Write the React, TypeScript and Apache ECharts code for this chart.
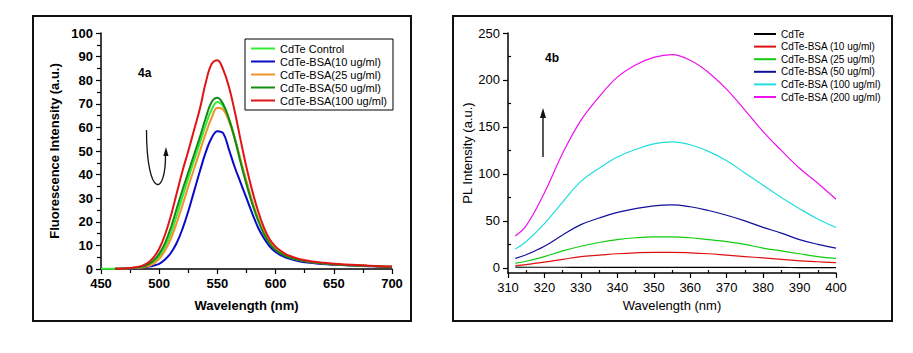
import React, { useEffect, useRef } from 'react';
import * as echarts from 'echarts';

// ---- Panel 4a data ----
const wlA = [450, 462, 470, 480, 485, 490, 495, 500, 505, 510, 515, 520, 525, 530, 535, 540, 545, 550, 555, 560, 565, 570, 575, 580, 585, 590, 595, 600, 605, 610, 620, 630, 640, 650, 660, 670, 680, 690, 700];
const controlA = [0.1, 0.1, 0.2, 0.4, 0.7, 1.4, 2.8, 5.3, 9.3, 15, 22.5, 30.5, 38.5, 46, 53.5, 61, 67.5, 70.8, 69, 63.5, 55.5, 46, 37, 28.5, 21.3, 15.5, 11.2, 8.4, 6.6, 5.3, 3.8, 3.0, 2.4, 2.0, 1.7, 1.5, 1.3, 1.1, 1.0];
const bsa10A = [null, 0.1, 0.1, 0.3, 0.5, 0.9, 1.4, 2.2, 4, 6.8, 11, 17, 24.5, 33, 41.5, 49.5, 55.5, 58.4, 57.5, 50.5, 43, 36.5, 30, 23.5, 17.5, 13, 9.5, 7.2, 5.7, 4.6, 3.3, 2.6, 2.1, 1.8, 1.6, 1.4, 1.2, 1.0, 0.9];
const bsa25A = [null, 0.1, 0.2, 0.4, 0.6, 1.1, 2.2, 4.3, 7.8, 12.8, 19.5, 27, 35, 42.5, 50, 57.5, 64, 68.3, 67.5, 62.5, 55, 46, 37, 28.5, 21.3, 15.5, 11.2, 8.4, 6.6, 5.3, 3.8, 3.0, 2.4, 2.0, 1.7, 1.5, 1.3, 1.1, 1.0];
const bsa50A = [null, 0.1, 0.2, 0.5, 0.9, 1.8, 3.5, 6.4, 11, 17.5, 25.5, 33.5, 41, 48.5, 56, 64, 70.8, 72.6, 69.8, 63.5, 55, 45, 35.8, 27.5, 20.5, 14.8, 10.7, 8.1, 6.4, 5.2, 3.8, 3.0, 2.4, 2.0, 1.7, 1.5, 1.3, 1.1, 1.0];
const bsa100A = [null, 0.1, 0.2, 0.7, 1.3, 2.5, 4.8, 8.6, 14.5, 22.5, 32, 41.5, 50, 59, 68, 79, 86.8, 88.5, 84.5, 77, 66.5, 54.5, 43, 33, 24.5, 17.5, 12.5, 9.5, 7.5, 6, 4.3, 3.3, 2.7, 2.2, 1.9, 1.7, 1.4, 1.2, 1.1];
const namesA = ['CdTe Control', 'CdTe-BSA(10 ug/ml)', 'CdTe-BSA(25 ug/ml)', 'CdTe-BSA(50 ug/ml)', 'CdTe-BSA(100 ug/ml)'];
const colorsA = ['#33ee33', '#0a0ac8', '#f0922e', '#138a13', '#e01414'];

// ---- Panel 4b data ----
const wlB = [312, 315, 320, 325, 330, 335, 340, 345, 350, 355, 360, 365, 370, 375, 380, 385, 390, 395, 400];
const cdteB = [0.7, 0.6, 0.6, 0.6, 0.5, 0.5, 0.5, 0.5, 0.5, 0.5, 0.5, 0.5, 0.4, 0.4, 0.4, 0.4, 0.3, 0.3, 0.3];
const bsa10B = [2.5, 3.5, 6, 9, 12, 13.5, 15, 16, 16.5, 16.5, 16, 15, 13.5, 12, 10.5, 9, 7.5, 6.5, 5.5];
const bsa25B = [5, 7, 12, 18, 23, 27, 30, 32, 33, 33, 32, 30, 28, 25, 21, 18, 15, 12, 10];
const bsa50B = [10, 14, 23, 35, 46, 53, 59, 63, 66, 67, 65, 61, 56, 50, 43, 37, 30, 25, 21];
const bsa100B = [20, 28, 47, 70, 92, 106, 118, 126, 132, 134, 131, 124, 114, 101, 88, 75, 63, 52, 43];
const bsa200B = [34, 45, 80, 122, 157, 182, 203, 216, 224, 227, 221, 208, 190, 168, 145, 125, 106, 90, 73];
const namesB = ['CdTe', 'CdTe-BSA (10 ug/ml)', 'CdTe-BSA (25 ug/ml)', 'CdTe-BSA (50 ug/ml)', 'CdTe-BSA (100 ug/ml)', 'CdTe-BSA (200 ug/ml)'];
const colorsB = ['#000000', '#dd1111', '#11cc11', '#10109a', '#22dddd', '#ee11ee'];
const yMajorB = [0, 50, 100, 150, 200, 250];
const yMinorB = [25, 75, 125, 175, 225];
const xMinorB = [315, 325, 335, 345, 355, 365, 375, 385, 395];

const FONT = '"Liberation Sans", Arial, sans-serif';

function pairs(xs: number[], ys: (number | null)[]) {
  const out: number[][] = [];
  xs.forEach((x, i) => {
    const y = ys[i];
    if (y !== null && y !== undefined) out.push([x, y]);
  });
  return out;
}

export default function App() {
  const ref = useRef<HTMLDivElement>(null);
  useEffect(() => {
    if (!ref.current) return;
    const chart = echarts.init(ref.current, undefined, { renderer: 'svg' });
    const seriesA = [controlA, bsa10A, bsa25A, bsa50A, bsa100A].map((ys, i) => ({
      name: namesA[i],
      type: 'line',
      xAxisIndex: 0,
      yAxisIndex: 0,
      data: pairs(wlA, ys),
      smooth: 0.4,
      symbol: 'none',
      lineStyle: { width: 2, color: colorsA[i] },
      itemStyle: { color: colorsA[i] },
      z: 2 + i,
    }));
    const seriesB = [cdteB, bsa10B, bsa25B, bsa50B, bsa100B, bsa200B].map((ys, i) => ({
      name: namesB[i],
      type: 'line',
      xAxisIndex: 1,
      yAxisIndex: 1,
      data: pairs(wlB, ys),
      smooth: 0.4,
      symbol: 'none',
      lineStyle: { width: 1.2, color: colorsB[i] },
      itemStyle: { color: colorsB[i] },
    }));
    const axisLine = { show: true, onZero: false, lineStyle: { color: '#000', width: 1.5 } };
    const hiddenSymbol = { color: 'rgba(0,0,0,0)', borderWidth: 0, opacity: 0 };
    chart.setOption({
      animation: false,
      textStyle: { fontFamily: FONT },
      grid: [
        { left: 101, top: 33, width: 291, height: 236 },
        { left: 508, top: 33, width: 328, height: 240 },
      ],
      xAxis: [
        {
          type: 'value', gridIndex: 0, min: 450, max: 700, interval: 50,
          axisLine, splitLine: { show: false },
          axisTick: { show: true, length: 5, lineStyle: { color: '#000', width: 1.2 } },
          minorTick: { show: true, splitNumber: 2, length: 4, lineStyle: { color: '#000', width: 1.2 } },
          axisLabel: { color: '#000', fontSize: 13, fontWeight: 'bold', margin: 8, fontFamily: FONT },
          name: 'Wavelength (nm)', nameLocation: 'middle', nameGap: 30,
          nameTextStyle: { color: '#000', fontSize: 13, fontWeight: 'bold', fontFamily: FONT },
        },
        {
          type: 'value', gridIndex: 1, min: 310, max: 400, interval: 10,
          axisLine, splitLine: { show: false },
          axisTick: { show: true, length: 5, lineStyle: { color: '#000', width: 1.2 } },
          axisLabel: { color: '#000', fontSize: 13, margin: 8, fontFamily: FONT },
          name: 'Wavelength (nm)', nameLocation: 'middle', nameGap: 23,
          nameTextStyle: { color: '#000', fontSize: 13, fontFamily: FONT },
        },
        {
          type: 'value', gridIndex: 1, min: 310, max: 400, position: 'bottom',
          axisLine: { show: false, onZero: false }, splitLine: { show: false },
          axisTick: { show: true, inside: true, length: 3, customValues: xMinorB, lineStyle: { color: '#000', width: 1.2 } },
          axisLabel: { show: false },
        },
      ],
      yAxis: [
        {
          type: 'value', gridIndex: 0, min: 0, max: 100, interval: 10,
          axisLine, splitLine: { show: false },
          axisTick: { show: true, length: 5, lineStyle: { color: '#000', width: 1.2 } },
          minorTick: { show: true, splitNumber: 2, length: 4, lineStyle: { color: '#000', width: 1.2 } },
          axisLabel: { color: '#000', fontSize: 13, fontWeight: 'bold', margin: 8, fontFamily: FONT },
          name: 'Fluorescence Intensity (a.u.)', nameLocation: 'middle', nameGap: 40,
          nameTextStyle: { color: '#000', fontSize: 13, fontWeight: 'bold', fontFamily: FONT },
        },
        {
          type: 'value', gridIndex: 1, min: -5.5, max: 250, position: 'left',
          axisLine, splitLine: { show: false },
          axisTick: { show: true, length: 5, customValues: yMajorB, lineStyle: { color: '#000', width: 1.2 } },
          axisLabel: { color: '#000', fontSize: 13, margin: 8, customValues: yMajorB, fontFamily: FONT },
          name: 'PL Intensity (a.u.)', nameLocation: 'middle', nameGap: 32,
          nameTextStyle: { color: '#000', fontSize: 13, fontFamily: FONT },
        },
        {
          type: 'value', gridIndex: 1, min: -5.5, max: 250, position: 'left',
          axisLine: { show: false }, splitLine: { show: false },
          axisTick: { show: true, inside: true, length: 3, customValues: yMinorB, lineStyle: { color: '#000', width: 1.2 } },
          axisLabel: { show: false },
        },
      ],
      legend: [
        {
          data: namesA, orient: 'vertical', left: 245, top: 39,
          itemWidth: 24, itemHeight: 13, itemGap: 0,
          padding: [3, 6, 3, 5], borderColor: '#000', borderWidth: 1,
          selectedMode: false,
          itemStyle: hiddenSymbol,
          textStyle: { fontSize: 11, color: '#000', fontFamily: FONT, lineHeight: 13 },
        },
        {
          data: namesB, orient: 'vertical', left: 748, top: 23,
          itemWidth: 22, itemHeight: 12, itemGap: 0.6,
          padding: [5, 5, 5, 5],
          selectedMode: false,
          itemStyle: hiddenSymbol,
          textStyle: { fontSize: 10, color: '#000', fontFamily: FONT, lineHeight: 12 },
        },
      ],
      graphic: [
        { type: 'rect', shape: { x: 33, y: 16, width: 378, height: 305 }, style: { fill: 'none', stroke: '#111', lineWidth: 2 }, silent: true },
        { type: 'rect', shape: { x: 453, y: 16, width: 439, height: 305 }, style: { fill: 'none', stroke: '#111', lineWidth: 2 }, silent: true },
        { type: 'text', x: 138, y: 73, style: { text: '4a', font: `bold 12px ${FONT}`, fill: '#000', textVerticalAlign: 'middle' } },
        { type: 'text', x: 545, y: 58, style: { text: '4b', font: `bold 12px ${FONT}`, fill: '#000', textVerticalAlign: 'middle' } },
        {
          type: 'bezierCurve',
          shape: { x1: 146.5, y1: 130, cpx1: 146.5, cpy1: 198, cpx2: 166, cpy2: 198, x2: 165.5, y2: 154 },
          style: { stroke: '#111', lineWidth: 1.3, fill: 'none' },
        },
        { type: 'polygon', shape: { points: [[166, 147], [163.3, 156], [168.5, 156]] }, style: { fill: '#111' } },
        { type: 'line', shape: { x1: 543, y1: 157, x2: 543, y2: 114 }, style: { stroke: '#111', lineWidth: 1.4 } },
        { type: 'polygon', shape: { points: [[543, 108], [540, 118], [546, 118]] }, style: { fill: '#111' } },
      ],
      series: [...seriesA, ...seriesB],
    });
    return () => chart.dispose();
  }, []);
  return (
    <div
      ref={ref}
      style={{ position: 'absolute', left: 0, top: 0, width: 913, height: 353, background: '#fff' }}
    />
  );
}
